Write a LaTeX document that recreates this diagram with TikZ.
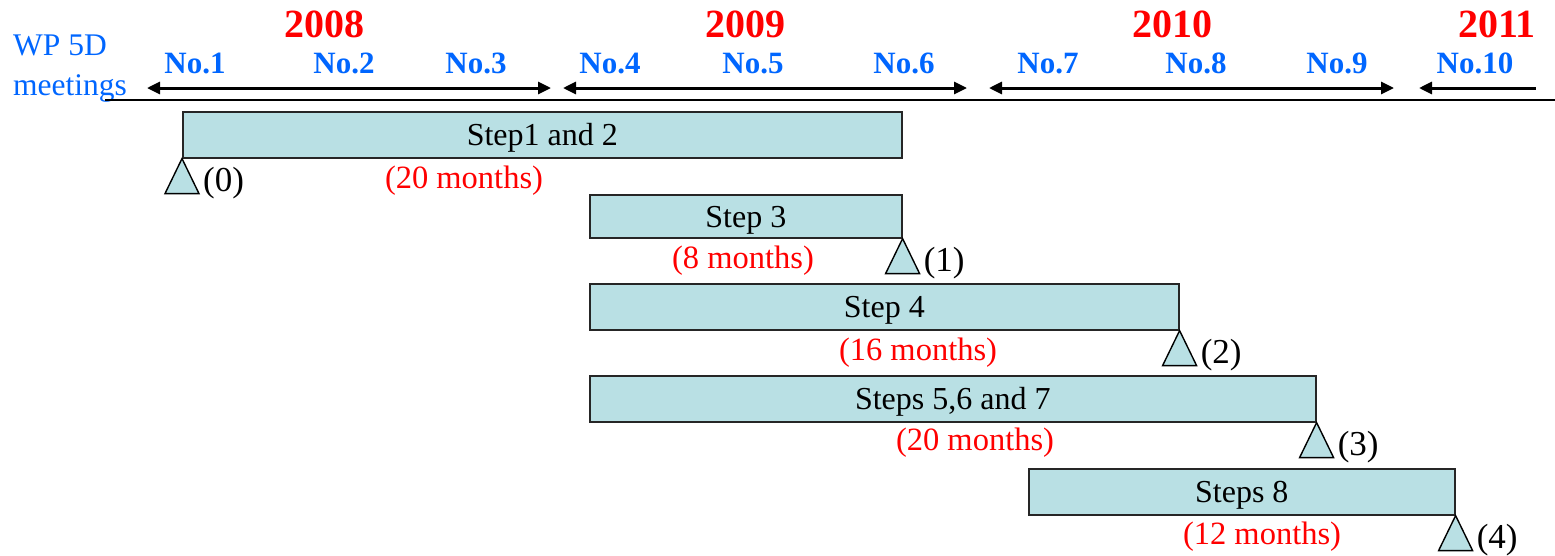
\documentclass[tikz,border=0pt]{standalone}
\usepackage{fontspec}
\setmainfont{Liberation Serif}
\usetikzlibrary{arrows.meta}
\definecolor{wpblue}{RGB}{0,102,255}
\definecolor{wpred}{RGB}{255,0,0}
\definecolor{barfill}{RGB}{185,224,228}
\tikzset{
  bar/.style={draw=black!85, line width=1.6pt, fill=barfill, anchor=north west, inner sep=0pt,
    font=\fontsize{32}{38}\selectfont, text height=22pt, text depth=0pt},
  tri/.style={draw=black, line width=1.4pt, fill=barfill, line join=miter},
  mark lab/.style={anchor=base west, inner sep=0pt, font=\fontsize{35}{40}\selectfont},
  months/.style={anchor=base, inner sep=0pt, text=wpred, font=\fontsize{32.5}{38}\selectfont},
  meet/.style={anchor=base, inner sep=0pt, text=wpblue, font=\fontsize{31}{36}\selectfont\bfseries},
  yearlab/.style={anchor=base, inner sep=0pt, text=wpred, font=\fontsize{40}{46}\selectfont\bfseries},
  wplab/.style={anchor=base west, inner sep=0pt, text=wpblue, font=\fontsize{31.5}{36}\selectfont},
  span/.style={line width=3pt, {Triangle[length=13pt,width=12pt]}-{Triangle[length=13pt,width=12pt]}},
  lspan/.style={line width=3pt, {Triangle[length=13pt,width=12pt]}-},
}
\begin{document}
\begin{tikzpicture}[x=1pt,y=-1pt]
\useasboundingbox (0,0) rectangle (1555,555);
% header
\node[wplab] (wp) at (13,55) {WP 5D};
\node[wplab] (mt) at (13,95) {meetings};
\node[yearlab] (y8) at (324,37) {2008};
\node[yearlab] (y9) at (745,37) {2009};
\node[yearlab] (y10) at (1172,37) {2010};
\node[yearlab] (y11) at (1497,37) {2011};
\node[meet] (n1) at (195,73) {No.1};
\node[meet] (n2) at (344,73) {No.2};
\node[meet] (n3) at (476,73) {No.3};
\node[meet] (n4) at (610,73) {No.4};
\node[meet] (n5) at (753,73) {No.5};
\node[meet] (n6) at (904,73) {No.6};
\node[meet] (n7) at (1048,73) {No.7};
\node[meet] (n8) at (1196,73) {No.8};
\node[meet] (n9) at (1337,73) {No.9};
\node[meet] (n10) at (1475,73) {No.10};
\coordinate (a1l) at (147,88); \coordinate (a1r) at (551,88);
\coordinate (a2l) at (563,88); \coordinate (a2r) at (967,88);
\coordinate (a3l) at (989,88); \coordinate (a3r) at (1394,88);
\coordinate (a4l) at (1419,88); \coordinate (a4r) at (1536,88);
\draw[span] (a1l) -- (a1r);
\draw[span] (a2l) -- (a2r);
\draw[span] (a3l) -- (a3r);
\draw[lspan] (a4l) -- (a4r);
\coordinate (hl) at (105,100); \coordinate (hr) at (1555,100);
\draw[line width=1.5pt] (hl) -- (hr);
% bars
\node[bar, minimum width=719pt, minimum height=46pt] (b1) at (182,111) {Step1 and 2};
\node[bar, minimum width=312pt, minimum height=43pt] (b2) at (589,194) {Step 3};
\node[bar, minimum width=589pt, minimum height=46pt] (b3) at (589,283) {Step 4};
\node[bar, minimum width=726pt, minimum height=46pt] (b4) at (589,375) {Steps 5,6 and 7};
\node[bar, minimum width=426pt, minimum height=46pt] (b5) at (1028,468) {Steps 8};
% milestones
\foreach \c/\t in {b1.south west/0,b2.south east/1,b3.south east/2,b4.south east/3,b5.south east/4}{
  \draw[tri] (\c) -- ++(-17,35) -- ++(34,0) -- cycle;
  \node[mark lab] (m\t) at ([xshift=21pt,yshift=-33pt]\c) {(\t)};
}
% durations
\node[months] (d1) at (464,188) {(20 months)};
\node[months] (d2) at (743,268) {(8 months)};
\node[months] (d3) at (918,360) {(16 months)};
\node[months] (d4) at (975,450) {(20 months)};
\node[months] (d5) at (1262,544) {(12 months)};
\end{tikzpicture}
\end{document}
